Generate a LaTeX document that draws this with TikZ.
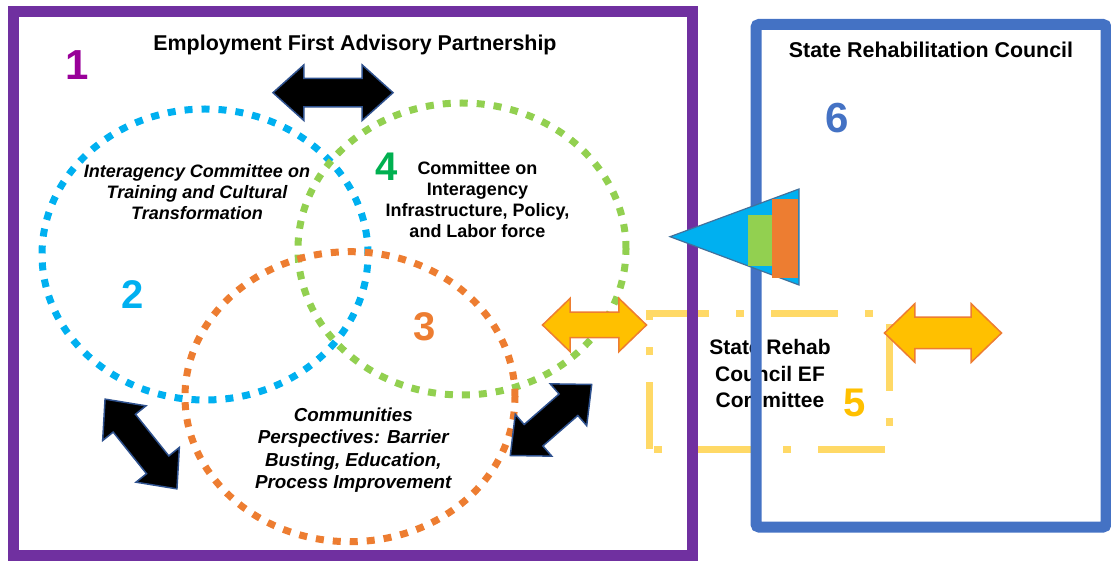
\documentclass[tikz,border=0pt]{standalone}
\usepackage{fontspec}
\setmainfont{Liberation Sans}
\usetikzlibrary{shapes.geometric,shapes.arrows}
\definecolor{purplebox}{RGB}{112,48,160}
\definecolor{bluebox}{RGB}{68,114,196}
\definecolor{cyanc}{RGB}{0,176,240}
\definecolor{greenc}{RGB}{146,208,80}
\definecolor{orangec}{RGB}{237,125,49}
\definecolor{gold}{RGB}{255,192,0}
\definecolor{paleyellow}{RGB}{255,217,102}
\definecolor{darkgreen}{RGB}{0,176,80}
\definecolor{onec}{RGB}{153,0,153}
\definecolor{arrowedge}{RGB}{47,82,143}
\definecolor{triedge}{RGB}{65,113,156}

\begin{document}
\begin{tikzpicture}[x=1pt,y=1pt,
ring/.style={ellipse,draw=#1,line width=7pt,dash pattern=on 8pt off 9pt,inner sep=0pt},
bignum/.style={text=#1,inner sep=0pt,font=\fontsize{40}{40}\selectfont\bfseries},
boxtitle/.style={inner sep=0pt,font=\fontsize{21.4}{25}\selectfont\bfseries},
body/.style={align=center,inner sep=0pt,font=\fontsize{18}{21}\selectfont\bfseries},
bodyit/.style={align=center,inner sep=0pt,font=\fontsize{18}{21}\selectfont\bfseries\itshape},
blockarrow/.style={double arrow,inner xsep=0pt,line width=1.5pt},
blackarrow/.style={blockarrow,fill=black,draw=arrowedge,double arrow tip angle=84,inner ysep=13.5pt,double arrow head extend=13.5pt},
goldarrow/.style={blockarrow,fill=gold,draw=orangec,double arrow tip angle=88,inner ysep=12pt,double arrow head extend=14pt}]
\useasboundingbox (0,0) rectangle (1111,560);
\draw[paleyellow,line width=7pt,dash pattern=on 67pt off 27pt on 8pt off 27pt] (649,110.7) -- (649,246.7) -- (889,246.7) -- (889,110.7) -- cycle;
\node[body,font=\fontsize{21}{26.7}\selectfont\bfseries] (srctext) at (770,186.5) {State Rehab\\Council EF\\Committee};
\draw[purplebox,line width=11pt] (13,4.5) rectangle (692,548);
\draw[bluebox,line width=11pt,rounded corners=3pt] (756,33) rectangle (1106,535.5);
\draw[fill=cyanc,draw=triedge,line width=1.2pt] (670,323.3) -- (799,371) -- (799,275) -- cycle;
\fill[greenc] (747.7,294) rectangle (774,345);
\fill[orangec] (772,282.3) rectangle (798,361);

\node[ring=cyanc,minimum width=326pt,minimum height=291pt] (train) at (205,305.5) {};
\node[ring=greenc,minimum width=328pt,minimum height=292pt] (infra) at (462,311) {};
\node[ring=orangec,minimum width=330pt,minimum height=290pt] (commun) at (350,163.3) {};

\node[boxtitle] (eftitle) at (355,515) {Employment First Advisory Partnership};
\node[boxtitle] (srctitle) at (931,510) {State Rehabilitation Council};
\node[bodyit] (traintext) at (197,367.7) {Interagency Committee on\\Training and Cultural\\Transformation};
\node[body] (infratext) at (477.5,360.8) {Committee on\\Interagency\\Infrastructure, Policy,\\and Labor force};
\node[bodyit,font=\fontsize{18.8}{22.4}\selectfont\bfseries\itshape] (communtext) at (353.3,110) {Communities\\Perspectives: Barrier\\Busting, Education,\\Process Improvement};

\node[bignum=onec,font=\fontsize{42}{42}\selectfont\bfseries] (one) at (77,495) {1};
\node[bignum=cyanc] (two) at (133,265) {2};
\node[bignum=orangec] (three) at (425,233.3) {3};
\node[bignum=darkgreen] (four) at (386.7,393.3) {4};
\node[bignum=gold] (five) at (855,156.7) {5};
\node[bignum=bluebox,font=\fontsize{42}{42}\selectfont\bfseries] (six) at (836.7,441.7) {6};

\node[blackarrow,minimum height=120pt,minimum width=54pt] (topflow) at (333,467.3) {};
\node[blackarrow,minimum height=115pt,minimum width=55pt,rotate=-51.3] (leftflow) at (141,116) {};
\node[blackarrow,minimum height=108pt,minimum width=55pt,rotate=41.1] (rightflow) at (551,140) {};
\node[goldarrow,minimum height=104pt,minimum width=52pt] (srcflow) at (594.5,235) {};
\node[goldarrow,minimum height=117pt,minimum width=57pt,inner ysep=15pt,double arrow head extend=13.5pt] (outflow) at (943,227) {};
\end{tikzpicture}
\end{document}
